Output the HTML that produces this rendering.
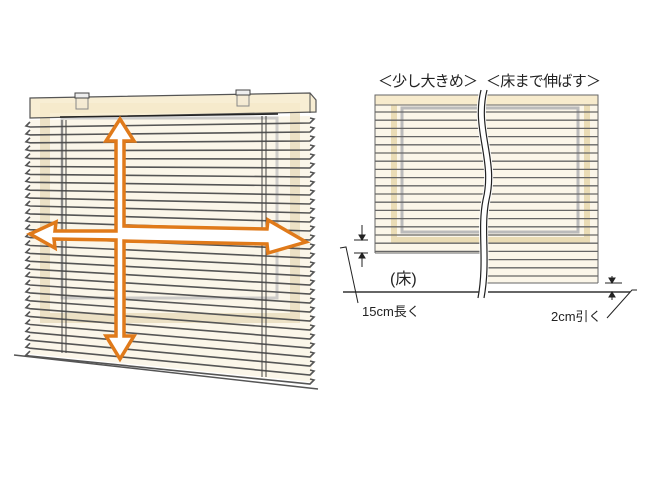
<!DOCTYPE html>
<html><head><meta charset="utf-8"><style>
html,body{margin:0;padding:0;background:#fff;width:651px;height:488px;overflow:hidden}
svg{display:block}
text{font-family:"Liberation Sans","Noto Sans CJK JP",sans-serif;fill:#222}
</style></head><body>
<svg id="s" width="651" height="488" viewBox="0 0 651 488" xmlns="http://www.w3.org/2000/svg">
<polygon points="30,120 310,116 312,382 30,354" fill="#fbf6e9"/>
<rect x="45" y="108" width="250" height="210" fill="none" stroke="#e8dcbc" stroke-width="10" opacity="0.8"/>
<rect x="62" y="118" width="215" height="180" fill="none" stroke="#bbb" stroke-width="3" opacity="0.7"/>
<g id="lslats" stroke="#555" stroke-width="1.6" fill="none"></g>
<g stroke="#444" stroke-width="1" fill="none">
<line x1="62" y1="120" x2="62" y2="353"/><line x1="66" y1="120" x2="66" y2="353"/>
<line x1="262" y1="116" x2="262" y2="377"/><line x1="266" y1="116" x2="266" y2="377"/>
</g>
<polygon points="30,98 310,93 316,100 316,112 30,118" fill="#f7ebcd" fill-opacity="0.85" stroke="#555" stroke-width="1.2"/>
<line x1="310" y1="93" x2="310" y2="113" stroke="#555"/>
<rect x="76" y="93" width="12" height="16" fill="#f3ead5" fill-opacity="0.6" stroke="#888"/>
<rect x="237" y="90" width="12" height="16" fill="#f3ead5" fill-opacity="0.6" stroke="#888"/>
<rect x="75" y="93" width="14" height="5" fill="#eee" stroke="#444"/>
<rect x="236" y="90" width="14" height="5" fill="#eee" stroke="#444"/>
<line x1="60" y1="117" x2="278" y2="114" stroke="#222" stroke-width="1.5"/>
<line x1="14" y1="355" x2="318" y2="389" stroke="#555" stroke-width="1.5"/>
<g fill="#fff" stroke="#e07a1a" stroke-width="3.5" stroke-linejoin="miter">
<polygon points="120,119 134,141 124,141 124,226 267,229 268,220 306,242 268,253 267,244 124,241 124,336 134,336 120,359 106,336 116,336 116,240 54,239 55,248 30,234 56,222 55,231 116,231 116,141 106,141"/>
</g>
<rect x="375" y="95" width="223" height="158" fill="#fbf6e9"/>
<rect x="485" y="95" width="113" height="188" fill="#fbf6e9"/>
<rect x="394" y="99" width="193" height="141" fill="none" stroke="#e6d6a8" stroke-width="6" opacity="0.8"/>
<rect x="402" y="108" width="176" height="124" fill="none" stroke="#bbb" stroke-width="3"/>
<rect x="375" y="95" width="223" height="10" fill="#f7ebcd" stroke="#666"/>
<g id="rslats" stroke="#666" stroke-width="1.3"></g>
<line x1="375" y1="95" x2="375" y2="253" stroke="#666"/>
<line x1="598" y1="95" x2="598" y2="283" stroke="#666"/>
<line x1="375" y1="253" x2="485" y2="253" stroke="#666"/>
<line x1="485" y1="283" x2="598" y2="283" stroke="#666"/>
<path d="M484,90 C474,130 496,160 486,200 C480,230 488,260 481,298" fill="none" stroke="#fff" stroke-width="9"/>
<path d="M481,90 C471,130 493,160 483,200 C477,230 485,260 478,298" fill="none" stroke="#222" stroke-width="1.2"/>
<path d="M487,90 C477,130 499,160 489,200 C483,230 491,260 484,298" fill="none" stroke="#222" stroke-width="1.2"/>
<line x1="343" y1="292" x2="479" y2="292" stroke="#333" stroke-width="1.5"/>
<line x1="488" y1="292" x2="630" y2="292" stroke="#333" stroke-width="1.5"/>
<g stroke="#222" stroke-width="1" fill="#222">
<line x1="354" y1="240" x2="368" y2="240"/><line x1="354" y1="253" x2="368" y2="253"/>
<line x1="362" y1="225" x2="362" y2="240"/><line x1="362" y1="253" x2="362" y2="267"/>
<polygon points="359,235 365,235 362,240"/><polygon points="359,258 365,258 362,253"/>
<polyline points="340,248 346,247 358,303" fill="none"/>
<line x1="605" y1="283" x2="622" y2="283"/>
<line x1="612" y1="276" x2="612" y2="283"/><line x1="612" y1="292" x2="612" y2="300"/>
<polygon points="609,278 615,278 612,283"/><polygon points="609,297 615,297 612,292"/>
<polyline points="607,318 632,290 637,290" fill="none"/>
</g>
<text x="378" y="86" font-size="15" textLength="100">＜少し大きめ＞</text>
<text x="486" y="86" font-size="15" textLength="115">＜床まで伸ばす＞</text>
<text x="390" y="284" font-size="16">(床)</text>
<text x="362" y="316" font-size="13">15cm長く</text>
<text x="551" y="321" font-size="13">2cm引く</text>
</svg>
<script>
var g=document.getElementById("lslats"),h="";
for(var i=0;i<30;i++){var ly=122+i*7.9,ry=118+i*9.0;
h+='<polyline points="30,'+ly+' 26,'+(ly+4)+' 30,'+(ly+5)+' 310,'+(ry+5)+' 314,'+(ry+1)+' 310,'+ry+'"/>';}
g.innerHTML=h;
var r=document.getElementById("rslats"),k="";
for(var y=112;y<283;y+=8.2){ if(y<253)k+='<line x1="375" y1="'+y+'" x2="485" y2="'+y+'"/>'; k+='<line x1="485" y1="'+y+'" x2="598" y2="'+y+'"/>';}
r.innerHTML=k;
</script>
</body></html>
